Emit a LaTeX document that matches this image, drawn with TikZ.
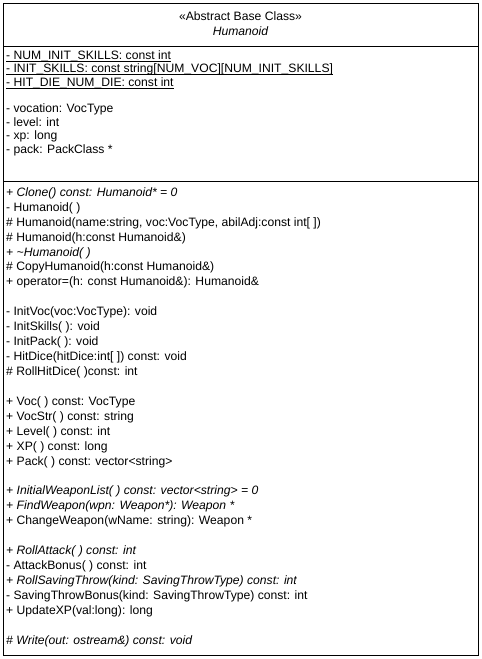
\documentclass[tikz,border=0pt]{standalone}
\usepackage{fontspec}
\setmainfont{Liberation Sans}

\tikzset{
  member/.style={anchor=base west, inner sep=0pt, font=\fontsize{12.15}{14}\selectfont},
  virt/.style={member, font=\fontsize{12.15}{14}\selectfont\itshape},
  head/.style={anchor=base, inner sep=0pt, font=\fontsize{12.15}{14}\selectfont}
}

\begin{document}
\begin{tikzpicture}[x=1pt,y=-1pt]

  \useasboundingbox (0,0) rectangle (482,659);

  \coordinate (P0) at (3,3);
  \coordinate (P1) at (478,3);
  \coordinate (P2) at (478,655);
  \coordinate (P3) at (3,655);
  \coordinate (H0) at (3,46);
  \coordinate (H1) at (478,46);
  \coordinate (D0) at (3,181);
  \coordinate (D1) at (478,181);

  % Draw class box
  \draw [line width=1pt] (P0) -- (P1) -- (P2) -- (P3) -- cycle;
  \draw [line width=1pt] (H0) -- (H1);
  \draw [line width=1pt] (D0) -- (D1);

  % Header
  \node[head] (T1) at (240.5,20.8) {«Abstract Base Class»};
  \node[head, font=\fontsize{12.15}{14}\selectfont\itshape] (T2) at (240.5,35.8) {Humanoid};

  % Attributes
  \node[member] (A1) at (6,59.3) {- NUM\_INIT\_SKILLS: const int};
  \node[member] (A2) at (6,72.7) {- INIT\_SKILLS: const string[NUM\_VOC][NUM\_INIT\_SKILLS]};
  \node[member] (A3) at (6,86.1) {- HIT\_DIE\_NUM\_DIE: const int};
  \node[member] (A4) at (6,112.9) {- vocation: VocType};
  \node[member] (A5) at (6,126.3) {- level: int};
  \node[member] (A6) at (6,139.7) {- xp: long};
  \node[member] (A7) at (6,153.1) {- pack: PackClass *};

  \foreach \n in {A1,A2,A3}
    \draw [line width=0.7pt] ([yshift=-1.8pt]\n.base west) -- ([yshift=-1.8pt]\n.base east);

  % Methods
  \node[virt] (M1) at (6,196.3) {+ Clone() const: Humanoid* = 0};
  \node[member] (M2) at (6,211.2) {- Humanoid( )};
  \node[member] (M3) at (6,226.2) {\# Humanoid(name:string, voc:VocType, abilAdj:const int[ ])};
  \node[member] (M4) at (6,241.1) {\# Humanoid(h:const Humanoid\&)};
  \node[virt] (M5) at (6,256.0) {+ \textasciitilde Humanoid( )};
  \node[member] (M6) at (6,270.9) {\# CopyHumanoid(h:const Humanoid\&)};
  \node[member] (M7) at (6,285.9) {+ operator=(h: const Humanoid\&): Humanoid\&};

  \node[member] (M8) at (6,315.7) {- InitVoc(voc:VocType): void};
  \node[member] (M9) at (6,330.7) {- InitSkills( ): void};
  \node[member] (M10) at (6,345.6) {- InitPack( ): void};
  \node[member] (M11) at (6,360.5) {- HitDice(hitDice:int[ ]) const: void};
  \node[member] (M12) at (6,375.5) {\# RollHitDice( )const: int};

  \node[member] (M13) at (6,405.3) {+ Voc( ) const: VocType};
  \node[member] (M14) at (6,420.3) {+ VocStr( ) const: string};
  \node[member] (M15) at (6,435.2) {+ Level( ) const: int};
  \node[member] (M16) at (6,450.1) {+ XP( ) const: long};
  \node[member] (M17) at (6,465.0) {+ Pack( ) const: vector<string>};

  \node[virt] (M18) at (6,494.9) {+ InitialWeaponList( ) const: vector<string> = 0};
  \node[virt] (M19) at (6,509.8) {+ FindWeapon(wpn: Weapon*): Weapon *};
  \node[member] (M20) at (6,524.8) {+ ChangeWeapon(wName: string): Weapon *};

  \node[virt] (M21) at (6,554.6) {+ RollAttack( ) const: int};
  \node[member] (M22) at (6,569.6) {- AttackBonus( ) const: int};
  \node[virt] (M23) at (6,584.5) {+ RollSavingThrow(kind: SavingThrowType) const: int};
  \node[member] (M24) at (6,599.4) {- SavingThrowBonus(kind: SavingThrowType) const: int};
  \node[member] (M25) at (6,614.3) {+ UpdateXP(val:long): long};

  \node[virt] (M26) at (6,644.2) {\# Write(out: ostream\&) const: void};

\end{tikzpicture}
\end{document}
